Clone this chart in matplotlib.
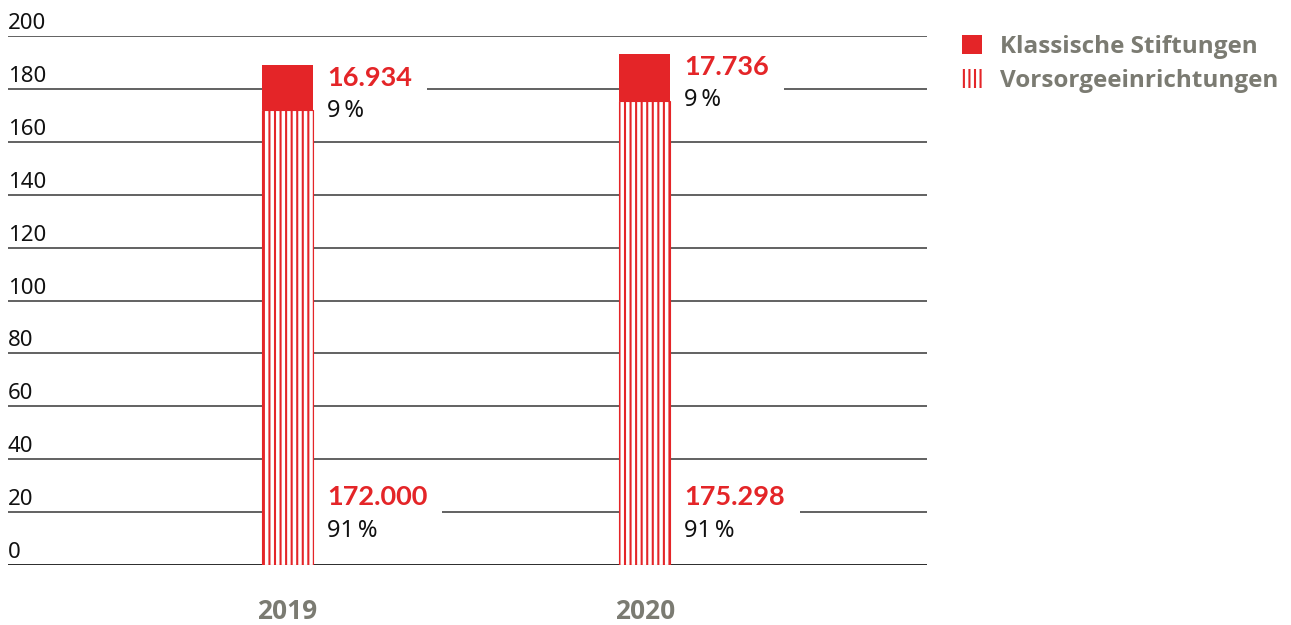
import matplotlib
matplotlib.use("Agg")
import matplotlib.pyplot as plt
from matplotlib.patches import Patch

# data (in thousands)
years = ["2019", "2020"]
vorsorge = [172.000, 175.298]
klassisch = [16.934, 17.736]
vorsorge_lbl = ["172.000", "175.298"]
klassisch_lbl = ["16.934", "17.736"]
vorsorge_pct = ["91\u2009%", "91\u2009%"]
klassisch_pct = ["9\u2009%", "9\u2009%"]
yticks = [0, 20, 40, 60, 80, 100, 120, 140, 160, 180, 200]

red = "#e42528"
grey = "#7b7b72"

plt.rcParams["hatch.linewidth"] = 1.5
plt.rcParams["font.family"] = ["Noto Sans", "DejaVu Sans"]

fig = plt.figure(figsize=(12.91, 6.25), dpi=100)
ax = fig.add_axes([8 / 1291, 60 / 625, 919 / 1291, 529 / 625])

x = list(range(len(years)))
w = 0.1427

ax.bar(x, vorsorge, width=w, color="white", edgecolor=red, hatch="|||",
       linewidth=0.8, zorder=3)
ax.bar(x, klassisch, width=w, bottom=vorsorge, color=red, linewidth=0, zorder=3)

ax.set_ylim(0, 200)
ax.set_xlim(-0.782, 1.789)

# gridlines with labels sitting on top, left aligned
for t in yticks:
    ax.axhline(t, color="#1a1a1a" if t == 0 else "#555555", lw=1.3, zorder=1)
    ax.annotate(str(t), xy=(0, t), xycoords=("axes fraction", "data"),
                xytext=(0, 5), textcoords="offset points",
                ha="left", va="baseline", fontsize=16, color="#111111")

# value labels
box = dict(facecolor="white", edgecolor="none", pad=11)
for i in x:
    top = vorsorge[i] + klassisch[i]
    ax.annotate(klassisch_lbl[i], xy=(i + w / 2, top), xytext=(10, -15),
                textcoords="offset points", ha="left", va="baseline",
                fontsize=19.5, fontweight="bold", color=red, family="Lato",
                bbox=box, zorder=2)
    ax.annotate(klassisch_pct[i], xy=(i + w / 2, top), xytext=(10, -37),
                textcoords="offset points", ha="left", va="baseline",
                fontsize=17, color="#111111", zorder=2)
    ax.annotate(vorsorge_lbl[i], xy=(i + w / 2, 0), xytext=(10, 43),
                textcoords="offset points", ha="left", va="baseline",
                fontsize=19.5, fontweight="bold", color=red, family="Lato",
                bbox=box, zorder=2)
    ax.annotate(vorsorge_pct[i], xy=(i + w / 2, 0), xytext=(10, 20),
                textcoords="offset points", ha="left", va="baseline",
                fontsize=17, color="#111111", zorder=2)

ax.set_xticks(x)
ax.set_xticklabels(years, fontsize=19, fontweight="bold", color=grey,
                   family="Open Sans")
ax.tick_params(axis="x", length=0, pad=24)
ax.set_yticks([])
for s in ax.spines.values():
    s.set_visible(False)

handles = [Patch(facecolor=red, edgecolor="none"),
           Patch(facecolor="white", edgecolor=red, hatch="|||", linewidth=0)]
leg = fig.legend(handles, ["Klassische Stiftungen", "Vorsorgeeinrichtungen"],
                 loc="upper left", bbox_to_anchor=(962 / 1291, 1 - 35 / 625),
                 frameon=False, borderpad=0, borderaxespad=0,
                 handlelength=0.82, handleheight=0.82, handletextpad=0.75,
                 labelspacing=0.42,
                 prop={"size": 17.5, "weight": "bold", "family": "Open Sans"})
for txt in leg.get_texts():
    txt.set_color(grey)

fig.savefig("out.png", dpi=100)
